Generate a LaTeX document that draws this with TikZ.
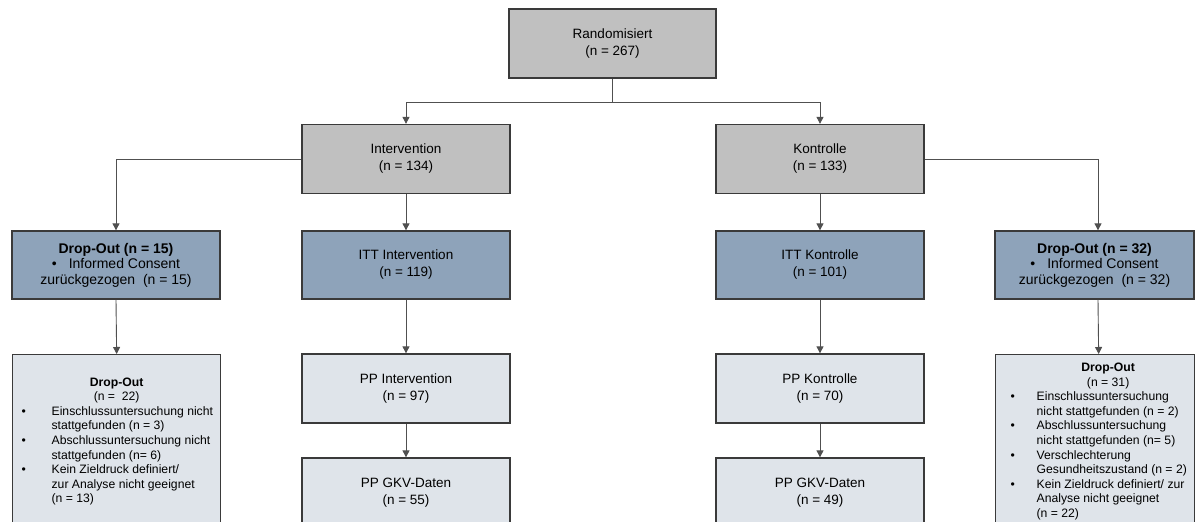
\documentclass[tikz,border=0pt]{standalone}
\usepackage{fontspec}
\setmainfont{Liberation Sans}
\usetikzlibrary{arrows.meta}
\definecolor{boxgray}{HTML}{C0C0C0}
\definecolor{boxblue}{HTML}{8EA3BA}
\definecolor{boxlight}{HTML}{DFE4EA}
\definecolor{edgecol}{HTML}{3A3A3A}
\definecolor{wirecol}{HTML}{505050}
\tikzset{
  box/.style={draw=edgecol, line width=1.3pt, minimum width=208pt, minimum height=69pt,
    inner sep=0pt, align=center, font=\fontsize{13.5}{17}\selectfont},
  graybox/.style={box, fill=boxgray},
  bluebox/.style={box, fill=boxblue},
  lightbox/.style={box, fill=boxlight},
  dropbox/.style={bluebox, minimum height=68pt, font=\fontsize{14}{15.5}\selectfont},
  listbox/.style={lightbox, minimum height=174pt, anchor=north west, align=left,
    font=\fontsize{12.2}{14.6}\selectfont},
  wire/.style={draw=wirecol, line width=0.9pt},
  arr/.style={wire, -{Triangle[length=7pt, width=7pt]}},
}
\begin{document}
\begin{tikzpicture}[x=1pt, y=-1pt]
\useasboundingbox (0,0) rectangle (1195,522);
\clip (0,0) rectangle (1195,522);

% top level
\node[graybox, minimum width=207pt] (rand) at (612.5,43.5) {Randomisiert\\(n = 267)};

% study arms
\node[graybox] (int) at (406,159) {Intervention\\(n = 134)};
\node[graybox] (kon) at (820,159) {Kontrolle\\(n = 133)};

% ITT and early drop-outs
\node[dropbox] (do1) at (116,265) {\textbf{Drop-Out (n = 15)}\\\textbullet\hspace{12pt}Informed Consent\\zurückgezogen\ \ (n = 15)};
\node[bluebox, minimum height=68pt] (itt1) at (406,265) {ITT Intervention\\(n = 119)};
\node[bluebox, minimum height=68pt] (itt2) at (820,265) {ITT Kontrolle\\(n = 101)};
\node[dropbox, minimum width=199pt] (do2) at (1094.5,265) {\textbf{Drop-Out (n = 32)}\\\textbullet\hspace{12pt}Informed Consent\\zurückgezogen\ \ (n = 32)};

% per-protocol populations
\node[lightbox] (pp1) at (406,388.5) {PP Intervention\\(n = 97)};
\node[lightbox] (pp2) at (820,388.5) {PP Kontrolle\\(n = 70)};
\node[lightbox, minimum height=70pt] (gkv1) at (406,493) {PP GKV-Daten\\(n = 55)};
\node[lightbox, minimum height=70pt] (gkv2) at (820,493) {PP GKV-Daten\\(n = 49)};

% later drop-outs
\node[listbox] (dl) at (12,354) {%
\begin{tabular}{@{\hspace{9pt}}p{30pt}@{}p{169pt}@{}}
\multicolumn{2}{c}{\textbf{Drop-Out}}\\
\multicolumn{2}{c}{(n =\ \ 22)}\\
\textbullet & \mbox{Einschlussuntersuchung nicht}\\
 & stattgefunden (n = 3)\\
\textbullet & \mbox{Abschlussuntersuchung nicht}\\
 & stattgefunden (n= 6)\\
\textbullet & Kein Zieldruck definiert/\\
 & zur Analyse nicht geeignet\\
 & (n = 13)
\end{tabular}};
\node[listbox, minimum width=199pt] (dr) at (995,354) {%
\begin{tabular}{@{\hspace{15pt}}p{26pt}@{}p{158pt}@{}}
\multicolumn{2}{@{\hspace{26pt}}c@{}}{\textbf{Drop-Out}}\\
\multicolumn{2}{@{\hspace{26pt}}c@{}}{(n = 31)}\\
\textbullet & Einschlussuntersuchung\\
 & \mbox{nicht stattgefunden (n = 2)}\\
\textbullet & Abschlussuntersuchung\\
 & \mbox{nicht stattgefunden (n= 5)}\\
\textbullet & Verschlechterung\\
 & \mbox{Gesundheitszustand (n = 2)}\\
\textbullet & \mbox{Kein Zieldruck definiert/ zur}\\
 & Analyse nicht geeignet\\
 & (n = 22)
\end{tabular}};

% connectors
\coordinate (split) at (612.5,102);
\draw[wire] (rand.south) -- (split);
\draw[arr] (split) -| (int.north);
\draw[arr] (split) -| (kon.north);
\draw[arr] (int.west) -| (do1.north);
\draw[arr] (kon.east) -| ([xshift=3.5pt]do2.north);
\draw[arr] (int.south) -- (itt1.north);
\draw[arr] (kon.south) -- (itt2.north);
\draw[arr] (itt1.south) -- (pp1.north);
\draw[arr] (itt2.south) -- (pp2.north);
\draw[arr] (pp1.south) -- (gkv1.north);
\draw[arr] (pp2.south) -- (gkv2.north);
\draw[arr] (do1.south) -- (dl.north);
\draw[arr] ([xshift=3.5pt]do2.south) -- ([xshift=3.5pt]dr.north);
\end{tikzpicture}
\end{document}
